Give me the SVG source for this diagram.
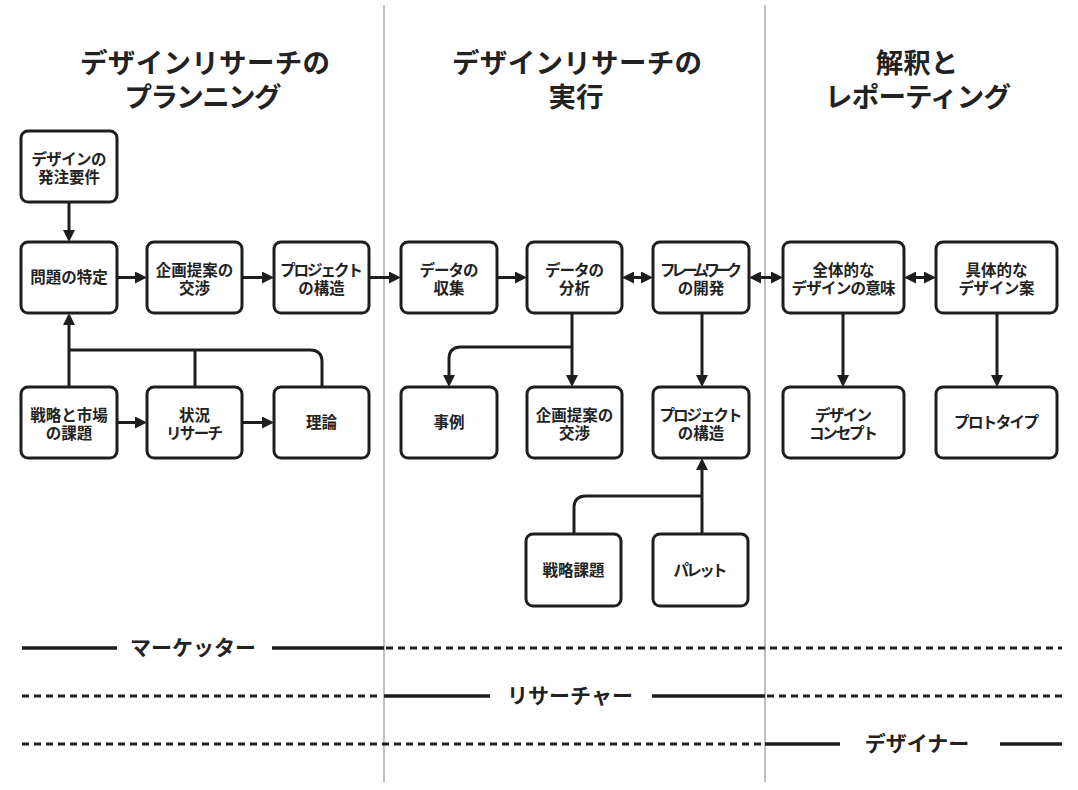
<svg xmlns="http://www.w3.org/2000/svg" width="1078" height="790" viewBox="0 0 1078 790">
<defs>
<style>
.box{fill:#fff;stroke:#1e1e1e;stroke-width:3}
.t{font-family:"Noto Sans CJK JP","Noto Sans",sans-serif;font-weight:bold;font-size:15.5px;fill:#222;text-anchor:middle}
.h{font-family:"Noto Sans CJK JP","Noto Sans",sans-serif;font-weight:bold;font-size:27.5px;fill:#222;text-anchor:middle}
.r{font-family:"Noto Sans CJK JP","Noto Sans",sans-serif;font-weight:bold;font-size:21px;fill:#222;text-anchor:middle}
.c{fill:none;stroke:#1e1e1e;stroke-width:3}
.a{marker-end:url(#ah)}
.d{marker-start:url(#ah);marker-end:url(#ah)}
.div{stroke:#aaa;stroke-width:1.5}
.sol{stroke:#1e1e1e;stroke-width:3.5}
.dash{stroke:#1e1e1e;stroke-width:3;stroke-dasharray:7 5}
</style>
<marker id="ah" viewBox="0 0 12 12" refX="3" refY="6" markerWidth="12" markerHeight="12" markerUnits="userSpaceOnUse" orient="auto-start-reverse">
<path d="M0,0 L12,6 L0,12 z" fill="#1e1e1e"/>
</marker>
</defs>
<rect width="1078" height="790" fill="#fff"/>
<g id="dividers">
<line class="div" x1="384" y1="5" x2="384" y2="782"/>
<line class="div" x1="765" y1="5" x2="765" y2="782"/>
</g>
<g id="headers">
<text class="h" x="205" y="73" textLength="250" lengthAdjust="spacing">デザインリサーチの</text>
<text class="h" x="203" y="107" textLength="157" lengthAdjust="spacing">プランニング</text>
<text class="h" x="577" y="73" textLength="250" lengthAdjust="spacing">デザインリサーチの</text>
<text class="h" x="576" y="107">実行</text>
<text class="h" x="917" y="73">解釈と</text>
<text class="h" x="918" y="107" textLength="186" lengthAdjust="spacing">レポーティング</text>
</g>
<g id="connectors">
<path class="c a" d="M69,202 V233"/>
<path class="c a" d="M117,277.5 H138"/>
<path class="c a" d="M242,277.5 H265"/>
<path class="c a" d="M369,277.5 H392"/>
<path class="c a" d="M497,277.5 H518"/>
<path class="c d" d="M631,277.5 H644"/>
<path class="c d" d="M758,277.5 H774"/>
<path class="c d" d="M913,277.5 H927"/>
<path class="c a" d="M117,422.5 H138"/>
<path class="c a" d="M242,422.5 H265"/>
<path class="c a" d="M69,387 V322"/>
<path class="c" d="M69,350 H310 Q322,350 322,362 V387"/>
<path class="c" d="M195,350 V387"/>
<path class="c a" d="M572,313 V378"/>
<path class="c a" d="M572,347 H461 Q449,347 449,359 V378"/>
<path class="c a" d="M702,313 V378"/>
<path class="c a" d="M843,313 V378"/>
<path class="c a" d="M997,313 V378"/>
<path class="c a" d="M702,534 V467"/>
<path class="c" d="M574,534 V508 Q574,496 586,496 H702"/>
</g>
<g id="n-order"><rect class="box" x="21" y="131" width="96" height="71" rx="7"/><text class="t" x="69" y="165" textLength="75" lengthAdjust="spacing">デザインの</text><text class="t" x="69" y="182.5">発注要件</text></g>
<g id="n-problem"><rect class="box" x="21" y="242" width="96" height="71" rx="7"/><text class="t" x="69" y="283">問題の特定</text></g>
<g id="n-proposal"><rect class="box" x="147" y="242" width="95" height="71" rx="7"/><text class="t" x="194.5" y="276">企画提案の</text><text class="t" x="194.5" y="293.5">交渉</text></g>
<g id="n-structure"><rect class="box" x="274" y="242" width="95" height="71" rx="7"/><text class="t" x="321.5" y="276" textLength="83" lengthAdjust="spacing">プロジェクト</text><text class="t" x="321.5" y="293.5">の構造</text></g>
<g id="n-strategy"><rect class="box" x="21" y="387" width="96" height="71" rx="7"/><text class="t" x="69" y="421">戦略と市場</text><text class="t" x="69" y="438.5">の課題</text></g>
<g id="n-situation"><rect class="box" x="147" y="387" width="95" height="71" rx="7"/><text class="t" x="194.5" y="421">状況</text><text class="t" x="194.5" y="438.5" textLength="57" lengthAdjust="spacing">リサーチ</text></g>
<g id="n-theory"><rect class="box" x="274" y="387" width="95" height="71" rx="7"/><text class="t" x="321.5" y="428">理論</text></g>
<g id="n-collect"><rect class="box" x="401" y="242" width="96" height="71" rx="7"/><text class="t" x="449" y="276" textLength="59" lengthAdjust="spacing">データの</text><text class="t" x="449" y="293.5">収集</text></g>
<g id="n-analysis"><rect class="box" x="527" y="242" width="95" height="71" rx="7"/><text class="t" x="574.5" y="276" textLength="59" lengthAdjust="spacing">データの</text><text class="t" x="574.5" y="293.5">分析</text></g>
<g id="n-framework"><rect class="box" x="653" y="242" width="96" height="71" rx="7"/><text class="t" x="701" y="276" textLength="82" lengthAdjust="spacing">フレームワーク</text><text class="t" x="701" y="293.5">の開発</text></g>
<g id="n-cases"><rect class="box" x="401" y="387" width="96" height="71" rx="7"/><text class="t" x="449" y="428">事例</text></g>
<g id="n-proposal2"><rect class="box" x="527" y="387" width="95" height="71" rx="7"/><text class="t" x="574.5" y="421">企画提案の</text><text class="t" x="574.5" y="438.5">交渉</text></g>
<g id="n-structure2"><rect class="box" x="653" y="387" width="96" height="71" rx="7"/><text class="t" x="701" y="421" textLength="83" lengthAdjust="spacing">プロジェクト</text><text class="t" x="701" y="438.5">の構造</text></g>
<g id="n-strategic"><rect class="box" x="526" y="534" width="95" height="72" rx="7"/><text class="t" x="573.5" y="576">戦略課題</text></g>
<g id="n-palette"><rect class="box" x="653" y="534" width="95" height="72" rx="7"/><text class="t" x="700.5" y="576" textLength="54" lengthAdjust="spacing">パレット</text></g>
<g id="n-meaning"><rect class="box" x="783" y="242" width="121" height="71" rx="7"/><text class="t" x="843.5" y="276">全体的な</text><text class="t" x="843.5" y="293.5" textLength="104" lengthAdjust="spacing">デザインの意味</text></g>
<g id="n-concrete"><rect class="box" x="936" y="242" width="121" height="71" rx="7"/><text class="t" x="996.5" y="276">具体的な</text><text class="t" x="996.5" y="293.5" textLength="76" lengthAdjust="spacing">デザイン案</text></g>
<g id="n-concept"><rect class="box" x="783" y="387" width="121" height="71" rx="7"/><text class="t" x="843.5" y="421" textLength="57" lengthAdjust="spacing">デザイン</text><text class="t" x="843.5" y="438.5" textLength="69" lengthAdjust="spacing">コンセプト</text></g>
<g id="n-prototype"><rect class="box" x="936" y="387" width="121" height="71" rx="7"/><text class="t" x="996.5" y="428" textLength="85" lengthAdjust="spacing">プロトタイプ</text></g>
<g id="roles">
<line class="sol" x1="22" y1="648" x2="117" y2="648"/>
<text class="r" x="193" y="655">マーケッター</text>
<line class="sol" x1="272" y1="648" x2="384" y2="648"/>
<line class="dash" x1="386" y1="648" x2="1062" y2="648"/>
<line class="dash" x1="22" y1="696" x2="382" y2="696"/>
<line class="sol" x1="384" y1="696" x2="490" y2="696"/>
<text class="r" x="570" y="703">リサーチャー</text>
<line class="sol" x1="652" y1="696" x2="765" y2="696"/>
<line class="dash" x1="767" y1="696" x2="1062" y2="696"/>
<line class="dash" x1="22" y1="744" x2="763" y2="744"/>
<line class="sol" x1="765" y1="744" x2="840" y2="744"/>
<text class="r" x="917" y="751">デザイナー</text>
<line class="sol" x1="1000" y1="744" x2="1062" y2="744"/>
</g>
</svg>
